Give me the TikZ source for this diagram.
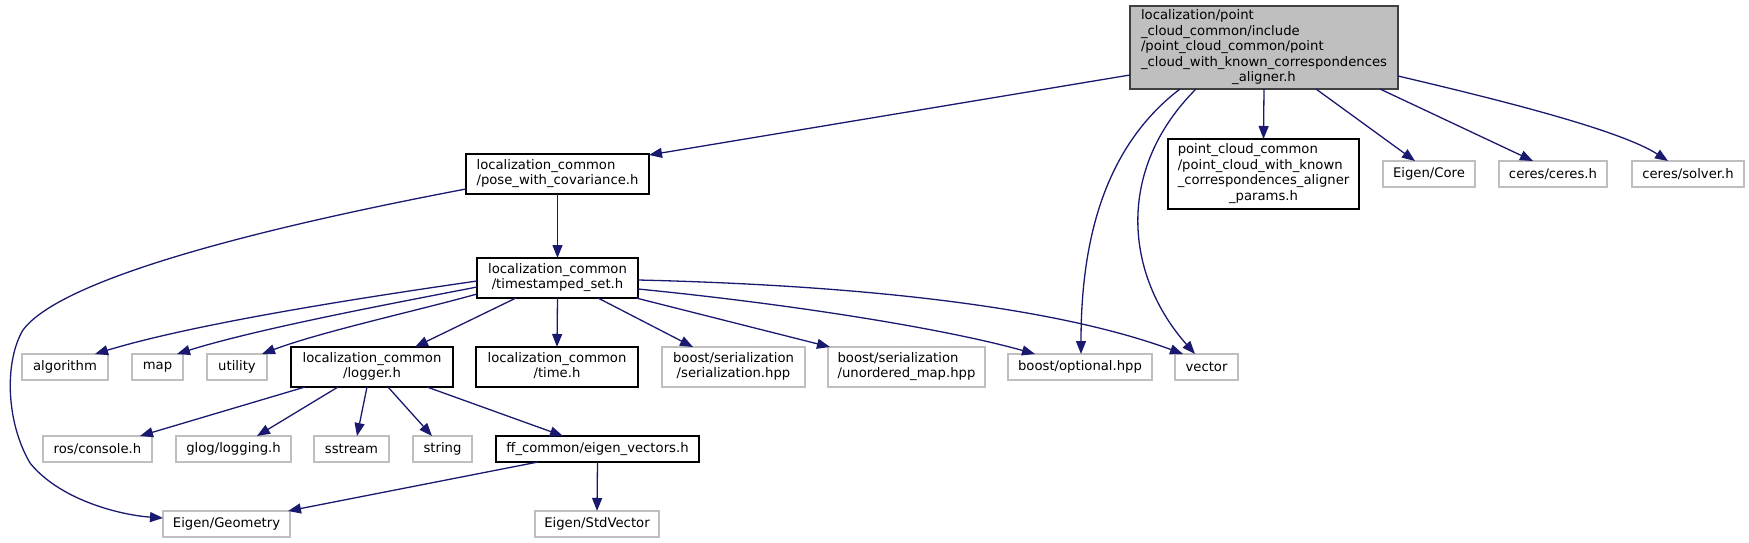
\documentclass[tikz,border=0pt]{standalone}
\usepackage{fontspec}
\setmainfont{DejaVu Sans}
\usetikzlibrary{arrows.meta}
\definecolor{edgeblue}{HTML}{191970}
\definecolor{extgray}{HTML}{BFBFBF}
\definecolor{topfill}{HTML}{BFBFBF}
\definecolor{topborder}{HTML}{404040}
\newcommand\gfont{\fontsize{13.2}{15.5}\selectfont}
\newcommand\dtab[2]{\begin{tabular}{@{}l@{}}#1\\\multicolumn{1}{@{}c@{}}{#2}\end{tabular}}
\tikzset{
  box/.style={draw, rectangle, inner sep=0pt, outer sep=0pt, line width=1.3pt, font=\gfont, align=center, text=black},
  doc/.style={box, draw=black},
  ext/.style={box, draw=extgray},
  mainbox/.style={box, draw=topborder, fill=topfill},
  dep/.style={draw=edgeblue, line width=1.3pt, -{Triangle[length=13pt,width=10pt]}},
}
\begin{document}
\begin{tikzpicture}[x=1pt,y=-1pt]
\useasboundingbox (0,0) rectangle (1749,543);
% nodes
\node[mainbox, minimum width=268pt, minimum height=83pt] (top) at (1264,47.5)
  {\dtab{localization/point\\\_cloud\_common/include\\/point\_cloud\_common/point\\\_cloud\_with\_known\_correspondences}{\_aligner.h}};
\node[doc, minimum width=183pt, minimum height=40pt] (pose) at (557.5,174)
  {\dtab{localization\_common}{/pose\_with\_covariance.h}};
\node[doc, minimum width=191pt, minimum height=70pt] (params) at (1263.5,174)
  {\dtab{point\_cloud\_common\\/point\_cloud\_with\_known\\\_correspondences\_aligner}{\_params.h}};
\node[ext, minimum width=92pt, minimum height=26pt] (core) at (1429,174) {Eigen/Core};
\node[ext, minimum width=108pt, minimum height=26pt] (ceres) at (1553,174) {ceres/ceres.h};
\node[ext, minimum width=112pt, minimum height=26pt] (solver) at (1688,174) {ceres/solver.h};
\node[doc, minimum width=161pt, minimum height=40pt] (ts) at (557.5,278)
  {\dtab{localization\_common}{/timestamped\_set.h}};
\node[ext, minimum width=86pt, minimum height=26pt] (algorithm) at (65,367) {algorithm};
\node[ext, minimum width=51pt, minimum height=26pt] (map) at (157.5,367) {map};
\node[ext, minimum width=60pt, minimum height=26pt] (utility) at (237,367) {utility};
\node[doc, minimum width=162pt, minimum height=40pt] (logger) at (372,367)
  {\dtab{localization\_common}{/logger.h}};
\node[doc, minimum width=162pt, minimum height=40pt] (time) at (557,367)
  {\dtab{localization\_common}{/time.h}};
\node[ext, minimum width=143pt, minimum height=40pt] (ser) at (733.5,367)
  {\dtab{boost/serialization}{/serialization.hpp}};
\node[ext, minimum width=157pt, minimum height=40pt] (umap) at (906.5,367)
  {\dtab{boost/serialization}{/unordered\_map.hpp}};
\node[ext, minimum width=144pt, minimum height=26pt] (optional) at (1080,367) {boost/optional.hpp};
\node[ext, minimum width=63pt, minimum height=26pt] (vector) at (1206.5,367) {vector};
\node[ext, minimum width=109pt, minimum height=26pt] (ros) at (97.5,449) {ros/console.h};
\node[ext, minimum width=115pt, minimum height=26pt] (glog) at (233.5,449) {glog/logging.h};
\node[ext, minimum width=75pt, minimum height=26pt] (sstream) at (351.5,449) {sstream};
\node[ext, minimum width=59pt, minimum height=26pt] (string) at (442.5,449) {string};
\node[doc, minimum width=203pt, minimum height=26pt] (ff) at (597.5,449) {ff\_common/eigen\_vectors.h};
\node[ext, minimum width=127pt, minimum height=26pt] (geometry) at (226.5,524) {Eigen/Geometry};
\node[ext, minimum width=124pt, minimum height=26pt] (stdvector) at (597,524) {Eigen/StdVector};
% edges from top
\draw[dep] ([yshift=-27.5pt]top.west) -- ([yshift=-1pt]pose.north east);
\draw[dep] (top.south) -- (params.north);
\draw[dep] ([xshift=52pt]top.south) -- ([xshift=-14pt]core.north);
\draw[dep] ([xshift=116pt]top.south) -- ([xshift=-20pt]ceres.north);
\draw[dep] ([yshift=-28.5pt]top.east) .. controls (1500,100) and (1620,130) .. ([xshift=-20pt]solver.north);
\draw[dep] ([xshift=-84pt]top.south) .. controls (1100,150) and (1081,250) .. ([xshift=1pt]optional.north);
\draw[dep] ([xshift=-68pt]top.south) .. controls (1115,170) and (1125,275) .. ([xshift=-11.5pt]vector.north);
% pose
\draw[dep] (pose.south) -- (ts.north);
\draw[dep] ([yshift=-15pt]pose.west) .. controls (250,230) and (60,280) .. (23,330)
  .. controls (5,360) and (5,420) .. (30,463) .. controls (60,500) and (120,515) .. ([yshift=6pt]geometry.west);
% timestamped
\draw[dep] ([yshift=-3pt]ts.west) .. controls (380,295) and (200,322) .. ([xshift=30pt]algorithm.north);
\draw[dep] ([yshift=-9pt]ts.west) .. controls (400,302) and (260,328) .. ([xshift=19.5pt]map.north);
\draw[dep] ([yshift=-16pt]ts.west) .. controls (420,310) and (320,332) .. ([xshift=25pt]utility.north);
\draw[dep] ([xshift=-41.5pt]ts.south) -- ([xshift=43pt]logger.north);
\draw[dep] (ts.south) -- (time.north);
\draw[dep] ([xshift=40.5pt]ts.south) -- ([xshift=-40.5pt]ser.north);
\draw[dep] ([xshift=-2pt]ts.south east) -- ([xshift=2pt]umap.north west);
\draw[dep] ([yshift=-11pt]ts.east) .. controls (800,305) and (950,330) .. ([xshift=-45pt]optional.north);
\draw[dep] ([yshift=-2pt]ts.east) .. controls (850,285) and (1050,305) .. ([xshift=-23.5pt]vector.north);
% logger
\draw[dep] ([xshift=-67pt]logger.south) -- ([xshift=42.5pt]ros.north);
\draw[dep] ([xshift=-34pt]logger.south) -- ([xshift=23.5pt]glog.north);
\draw[dep] ([xshift=-5pt]logger.south) -- ([xshift=5.5pt]sstream.north);
\draw[dep] ([xshift=16pt]logger.south) -- ([xshift=-10.5pt]string.north);
\draw[dep] ([xshift=55pt]logger.south) -- ([xshift=-34.5pt]ff.north);
% ff
\draw[dep] ([xshift=-59.5pt]ff.south) -- ([xshift=61.5pt]geometry.north);
\draw[dep] (ff.south) -- (stdvector.north);
\end{tikzpicture}
\end{document}
